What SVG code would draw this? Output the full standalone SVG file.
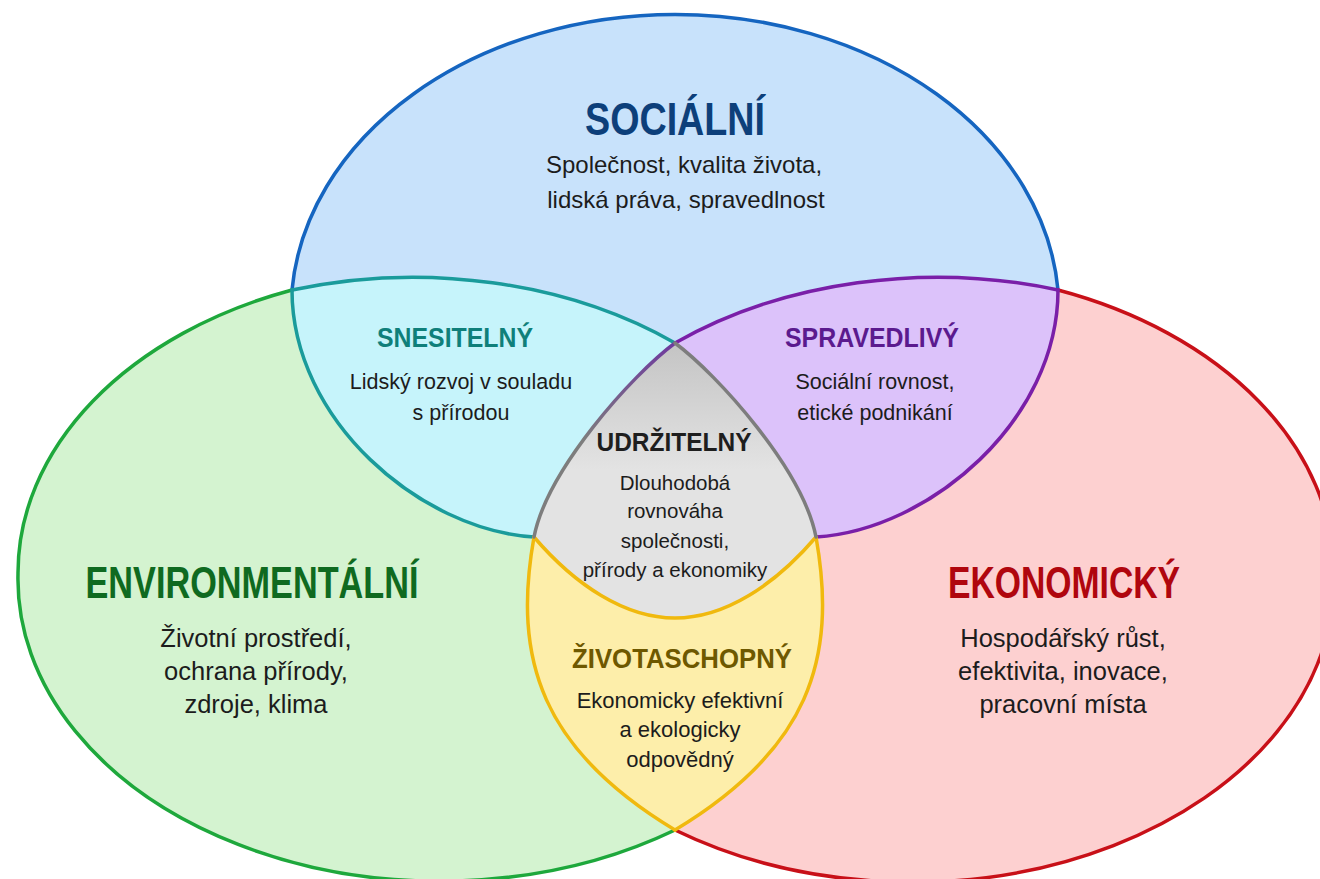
<svg xmlns="http://www.w3.org/2000/svg" width="1320" height="879" viewBox="0 0 1320 879">
<defs>
<linearGradient id="grayGrad" gradientUnits="userSpaceOnUse" x1="0" y1="343" x2="0" y2="470">
<stop offset="0" stop-color="#c4c4c4"/>
<stop offset="1" stop-color="#e3e3e3"/>
</linearGradient>
<linearGradient id="leftEdgeGrad" gradientUnits="userSpaceOnUse" x1="0" y1="343" x2="0" y2="440">
<stop offset="0" stop-color="#6f3a9e"/>
<stop offset="1" stop-color="#7d7d7d"/>
</linearGradient>
<style>
.title{font-family:"Liberation Sans",Arial,sans-serif;font-weight:bold;text-anchor:middle}
.body{font-family:"Liberation Sans",Arial,sans-serif;fill:#1c1c1c;text-anchor:middle}
.edge{fill:none;stroke-width:3.5;stroke-linecap:round;stroke-linejoin:round}
</style>
</defs>
<rect width="1320" height="879" fill="#ffffff"/>

<g id="environmental">
<path fill="#d4f3d0" d="M292,290 A422,302 0 0 0 18,574 A422,302 0 0 0 675,830 C808,750 838,660 816,537 C803,470 718,375 675,343 A422,304 0 0 0 292,290 Z"/>
<text class="title" x="252" y="598" font-size="44" fill="#0f6a20" textLength="333" lengthAdjust="spacingAndGlyphs">ENVIRONMENTÁLNÍ</text>
<text class="body" x="256" y="647" font-size="25.5">Životní prostředí,</text>
<text class="body" x="256" y="680" font-size="25.5">ochrana přírody,</text>
<text class="body" x="256" y="713" font-size="25.5">zdroje, klima</text>
</g>

<g id="economic">
<path fill="#fdd0d0" d="M1058,290 A422,302 0 0 1 1334,574 A422,302 0 0 1 675,830 C542,750 512,660 534,537 C547,470 632,375 675,343 A422,304 0 0 1 1058,290 Z"/>
<text class="title" x="1064" y="598" font-size="44" fill="#b0060e" textLength="232" lengthAdjust="spacingAndGlyphs">EKONOMICKÝ</text>
<text class="body" x="1063" y="647" font-size="25.5">Hospodářský růst,</text>
<text class="body" x="1063" y="680" font-size="25.5">efektivita, inovace,</text>
<text class="body" x="1063" y="713" font-size="25.5">pracovní místa</text>
</g>

<g id="social">
<path fill="#c8e2fb" d="M292,290 A384,297 0 0 1 1058,290 C1058,420 930,530 816,537 C775,585 725,618 675,618 C625,618 575,585 534,537 C420,530 292,420 292,290 Z"/>
<text class="title" x="675" y="135" font-size="46" fill="#0d3f7a" textLength="180" lengthAdjust="spacingAndGlyphs">SOCIÁLNÍ</text>
<text class="body" x="684" y="173" font-size="24">Společnost, kvalita života,</text>
<text class="body" x="686" y="208" font-size="24">lidská práva, spravedlnost</text>
</g>

<g id="snesitelny">
<path fill="#c6f4fb" d="M292,290 A422,304 0 0 1 675,343 C632,375 547,470 534,537 C420,530 292,420 292,290 Z"/>
<text class="title" x="455" y="347" font-size="28" fill="#0f7f7a" textLength="156" lengthAdjust="spacingAndGlyphs">SNESITELNÝ</text>
<text class="body" x="461" y="389" font-size="21.5">Lidský rozvoj v souladu</text>
<text class="body" x="461" y="420" font-size="21.5">s přírodou</text>
</g>

<g id="spravedlivy">
<path fill="#dcc2fa" d="M675,343 A422,304 0 0 1 1058,290 C1058,420 930,530 816,537 C803,470 718,375 675,343 Z"/>
<text class="title" x="872" y="347" font-size="28" fill="#5b1a8e" textLength="174" lengthAdjust="spacingAndGlyphs">SPRAVEDLIVÝ</text>
<text class="body" x="875" y="389" font-size="21.5">Sociální rovnost,</text>
<text class="body" x="875" y="420" font-size="21.5">etické podnikání</text>
</g>

<g id="udrzitelny">
<path fill="url(#grayGrad)" d="M675,343 C718,375 803,470 816,537 C775,585 725,618 675,618 C625,618 575,585 534,537 C547,470 632,375 675,343 Z"/>
<text class="title" x="674" y="451" font-size="26" fill="#1e1e1e" textLength="155" lengthAdjust="spacingAndGlyphs">UDRŽITELNÝ</text>
<text class="body" x="675" y="490" font-size="20.5">Dlouhodobá</text>
<text class="body" x="675" y="518" font-size="20.5">rovnováha</text>
<text class="body" x="675" y="548" font-size="20.5">společnosti,</text>
<text class="body" x="675" y="577" font-size="20.5">přírody a ekonomiky</text>
</g>

<g id="zivotaschopny">
<path fill="#fdeeaa" d="M534,537 C575,585 625,618 675,618 C725,618 775,585 816,537 C838,660 808,750 675,830 C542,750 512,660 534,537 Z"/>
<text class="title" x="682" y="668" font-size="28" fill="#6e5800" textLength="220" lengthAdjust="spacingAndGlyphs">ŽIVOTASCHOPNÝ</text>
<text class="body" x="680" y="708" font-size="22">Ekonomicky efektivní</text>
<text class="body" x="680" y="737" font-size="22">a ekologicky</text>
<text class="body" x="680" y="767" font-size="22">odpovědný</text>
</g>

<g id="connectors">
<path class="edge" stroke="#1565c0" d="M292,290 A384,297 0 0 1 1058,290"/>
<path class="edge" stroke="#1ea83c" d="M292,290 A422,302 0 0 0 18,574 A422,302 0 0 0 675,830"/>
<path class="edge" stroke="#c81018" d="M1058,290 A422,302 0 0 1 1334,574 A422,302 0 0 1 675,830"/>
<path class="edge" stroke="#1a9b9b" d="M292,290 A422,304 0 0 1 675,343"/>
<path class="edge" stroke="#1a9b9b" d="M292,290 C292,420 420,530 534,537"/>
<path class="edge" stroke="#7a1fa8" d="M675,343 A422,304 0 0 1 1058,290"/>
<path class="edge" stroke="#7a1fa8" d="M1058,290 C1058,420 930,530 816,537"/>
<path class="edge" stroke="#f0b90e" d="M534,537 C575,585 625,618 675,618 C725,618 775,585 816,537"/>
<path class="edge" stroke="#f0b90e" d="M816,537 C838,660 808,750 675,830"/>
<path class="edge" stroke="#f0b90e" d="M534,537 C512,660 542,750 675,830"/>
<path class="edge" stroke="url(#leftEdgeGrad)" d="M675,343 C632,375 547,470 534,537"/>
<path class="edge" stroke="#7d7d7d" d="M675,343 C718,375 803,470 816,537"/>
</g>
</svg>
